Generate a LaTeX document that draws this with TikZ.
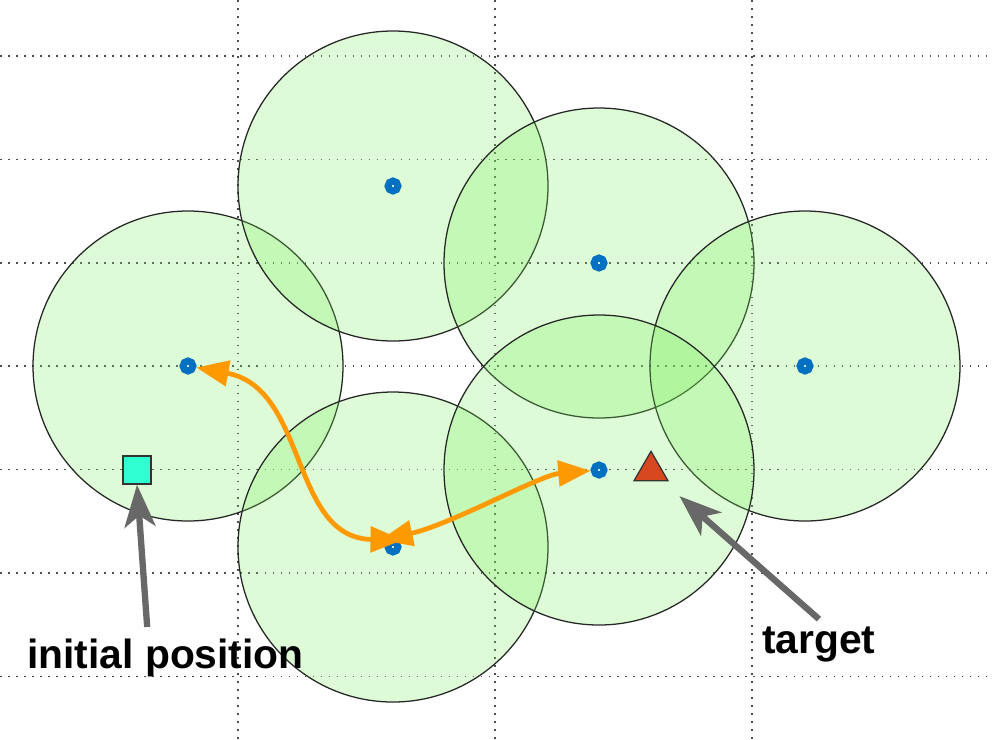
\documentclass[tikz,border=0pt]{standalone}
\usepackage{fontspec}
\setmainfont{Liberation Sans}
\usepackage{xcolor}
\usepackage{tikz}
\usetikzlibrary{positioning,arrows.meta,shapes.geometric}
\definecolor{RangeGreen}{RGB}{120,240,90}
\definecolor{AnchorBlue}{RGB}{0,112,192}
\definecolor{HopOrange}{RGB}{255,153,0}
\definecolor{StartCyan}{RGB}{48,255,210}
\definecolor{GoalRed}{RGB}{216,72,32}
\definecolor{PointerGray}{RGB}{104,104,104}
\tikzset{
    gridline/.style={draw=black!70, line width=1.1pt, dash pattern=on 1.1pt off 4.6pt},
    rangedisk/.style={draw=black!85, line width=0.9pt, fill=RangeGreen, fill opacity=0.25},
    anchornode/.style={circle, draw=AnchorBlue, fill=white, line width=5pt, minimum size=7pt, inner sep=0pt},
    hop/.style={draw=HopOrange, line width=3.4pt, <->, >={Triangle[length=23pt,width=18pt]}},
    pointer/.style={draw=PointerGray, line width=4.5pt, -{Stealth[length=30pt,width=22pt,inset=8pt]}},
    textlabel/.style={font=\bfseries\fontsize{29}{34}\selectfont, inner sep=0pt}
}
\begin{document}
\begin{tikzpicture}[x=0.025cm, y=-0.025cm]
    \useasboundingbox (0,0) rectangle (993,739);
    % dotted grid
    \foreach \gx in {238,495,752}
        \draw[gridline] (\gx,0) -- (\gx,739);
    \foreach \gy in {56,159.5,263,366,469.5,573,676.5}
        \draw[gridline] (0,\gy) -- (993,\gy);
    % ranges and anchors
    \foreach \cx/\cy in {188/366, 393/186, 599/263, 805/366, 393/547, 599/470}
        \draw[rangedisk] (\cx,\cy) circle[radius=155];
    \foreach \cx/\cy [count=\i] in {188/366, 393/186, 599/263, 805/366, 393/547, 599/470}
        \node[anchornode] (a\i) at (\cx,\cy) {};
    % hops
    \draw[hop] (a1) .. controls (308,388) and (290,538) .. ([xshift=7pt,yshift=-1pt]a5.north);
    \draw[hop] ([xshift=-9pt,yshift=-1pt]a5.north) .. controls (450,525) and (540,475) .. (a6);
    % start and target
    \node[rectangle, draw=black!80, line width=0.9pt, fill=StartCyan, minimum size=20pt, inner sep=0pt] (start) at (137,470) {};
    \node[regular polygon, regular polygon sides=3, draw=black!80, line width=0.9pt, fill=GoalRed, minimum size=28pt, inner sep=0pt] (goal) at (651,471) {};
    % labels
    \node[textlabel, anchor=base west] (ilabel) at (27,668) {initial position};
    \node[textlabel, anchor=base west] (tlabel) at (762,653) {target};
    \draw[pointer] ([xshift=-13pt,yshift=8pt]ilabel.north) -- (start.south);
    \draw[pointer, shorten >=27pt] ([yshift=5pt]tlabel.north) -- (goal.center);
\end{tikzpicture}
\end{document}
